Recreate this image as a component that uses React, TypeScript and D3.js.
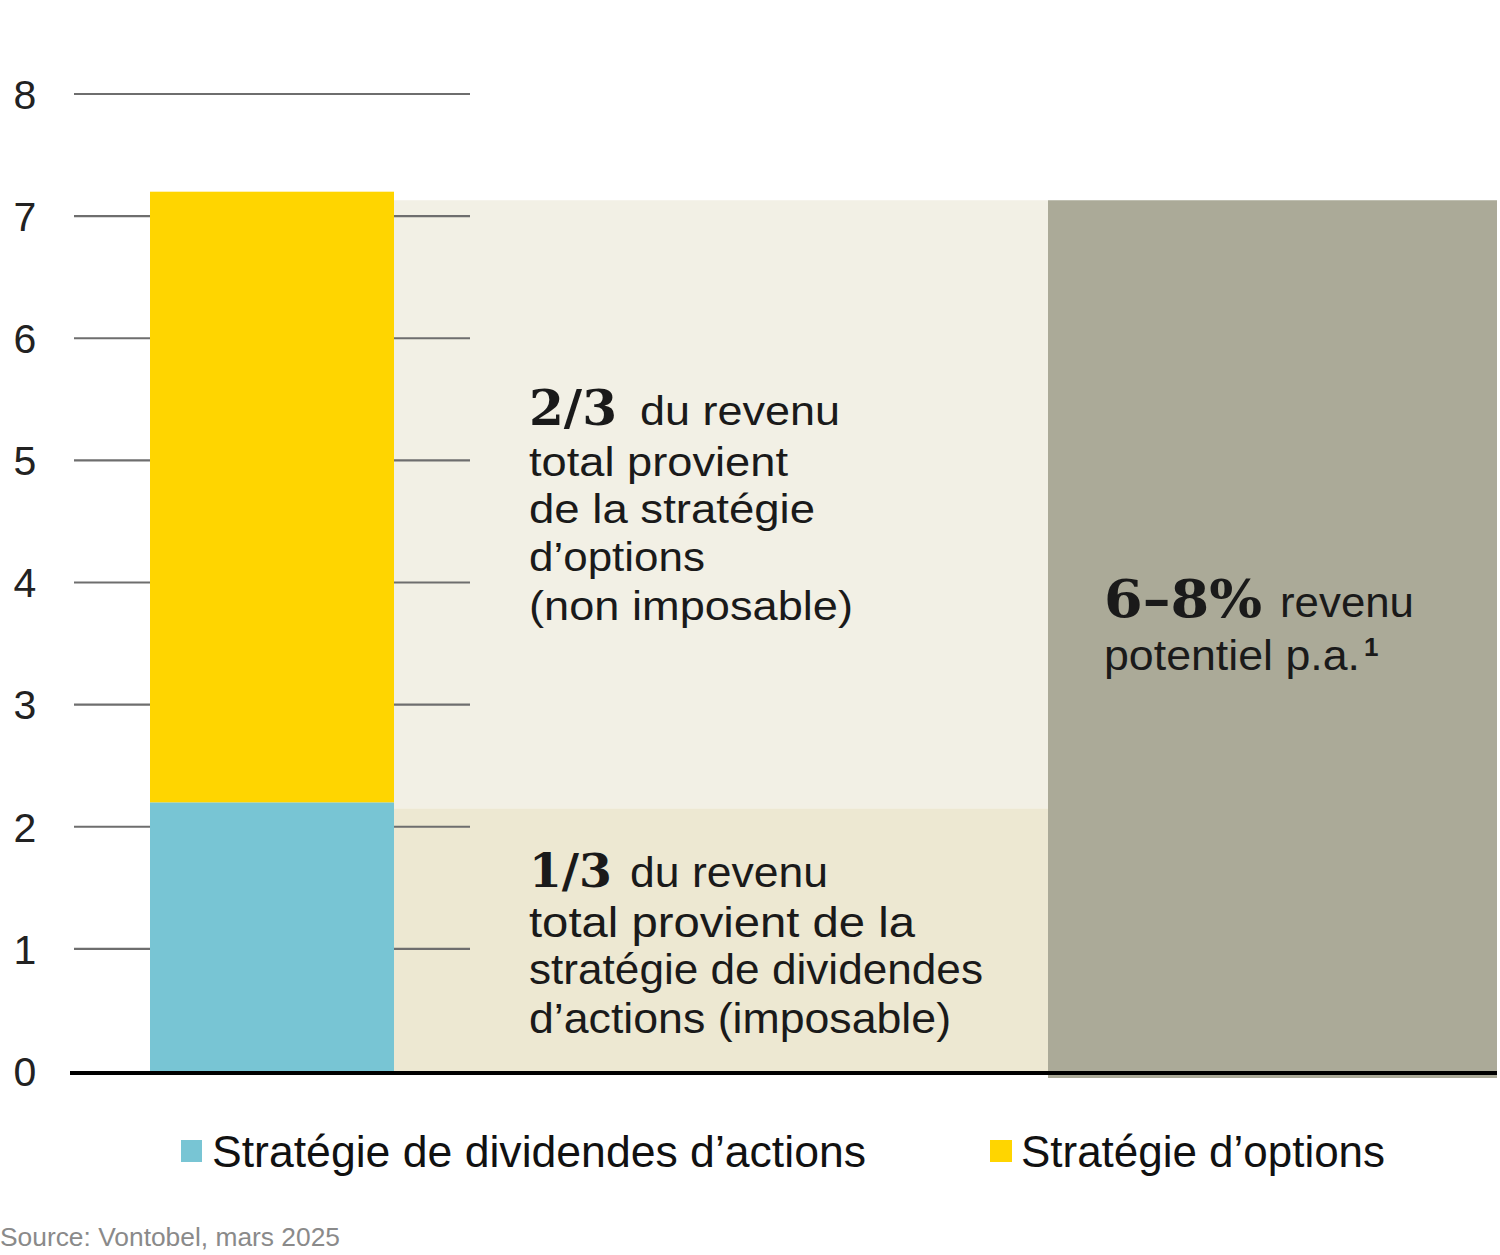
import { scaleLinear, stack } from "d3";

const Y_TICKS = [0, 1, 2, 3, 4, 5, 6, 7, 8];
const SERIES = ["dividendes", "options"];
const SERIES_LABELS = ["Stratégie de dividendes d’actions", "Stratégie d’options"];
const SERIES_COLORS = ["#78C5D4", "#FFD500"];
const BAR_VALUES = [{ dividendes: 2.2, options: 5.0 }];
// background panels: [from, to] on the value axis
const PANEL_LOW = [0, 2.15];
const PANEL_HIGH = [2.15, 7.13];
const PANEL_TOTAL = [0, 7.13];

const W = 1500, H = 1255;
const SANS = "'Liberation Sans', Arial, sans-serif";
const SERIF = "'DejaVu Serif', 'Liberation Serif', serif";

export default function App() {
  const y = scaleLinear().domain([0, 8]).range([1071, 94]);
  const layers = stack<any>().keys(SERIES)(BAR_VALUES);
  const barX = 150, barW = 244;
  const midX = 394, midW = 654;
  const grayX = 1048, grayW = 449;
  const fit = { lengthAdjust: "spacingAndGlyphs" } as any;

  return (
    <svg width={W} height={H} style={{ position: "absolute", left: 0, top: 0, background: "#fff" }}>
      {/* panels */}
      <rect x={midX} y={y(PANEL_HIGH[1])} width={midW} height={y(PANEL_HIGH[0]) - y(PANEL_HIGH[1])} fill="#F2F0E5" />
      <rect x={midX} y={y(PANEL_LOW[1])} width={midW} height={y(PANEL_LOW[0]) - y(PANEL_LOW[1])} fill="#EDE8D2" />
      <rect x={grayX} y={y(PANEL_TOTAL[1])} width={grayW} height={y(PANEL_TOTAL[0]) - y(PANEL_TOTAL[1]) + 7} fill="#ABAA98" />

      {/* grid + ticks */}
      {Y_TICKS.map(t => (
        <g key={t}>
          {t > 0 && <line x1={74} x2={470} y1={y(t)} y2={y(t)} stroke="#6e6e6e" strokeWidth={2.2} />}
          <text x={25} y={y(t)} dy="0.36em" textAnchor="middle" fontFamily={SANS} fontSize={41} fill="#222">{t}</text>
        </g>
      ))}

      {/* stacked bar */}
      {layers.map((layer, i) => (
        <rect key={layer.key} x={barX} width={barW}
          y={y(layer[0][1])} height={y(layer[0][0]) - y(layer[0][1])} fill={SERIES_COLORS[i]} />
      ))}

      {/* axis */}
      <line x1={70} x2={1497} y1={y(0) + 2} y2={y(0) + 2} stroke="#000" strokeWidth={4} />

      {/* upper annotation */}
      <g fontFamily={SANS} fontSize={41} fill="#1a1a1a">
        <text x={529} y={425} fontFamily={SERIF} fontWeight="bold" fontSize={48} textLength={88} {...fit}>2/3</text>
        <text x={640} y={425} textLength={200} {...fit}>du  revenu</text>
        <text x={529} y={476} textLength={259} {...fit}>total  provient</text>
        <text x={529} y={523} textLength={286} {...fit}>de  la  stratégie</text>
        <text x={529} y={571} textLength={176} {...fit}>d’options</text>
        <text x={529} y={620} textLength={324} {...fit}>(non  imposable)</text>
      </g>

      {/* lower annotation */}
      <g fontFamily={SANS} fontSize={43} fill="#1a1a1a">
        <text x={529} y={887} fontFamily={SERIF} fontWeight="bold" fontSize={47} textLength={83} {...fit}>1/3</text>
        <text x={630} y={887} textLength={198} {...fit}>du revenu</text>
        <text x={529} y={937} textLength={386} {...fit}>total  provient  de  la</text>
        <text x={529} y={984} textLength={454} {...fit}>stratégie de dividendes</text>
        <text x={529} y={1033} textLength={422} {...fit}>d’actions (imposable)</text>
      </g>

      {/* gray annotation */}
      <g fontFamily={SANS} fontSize={42} fill="#1a1a1a">
        <text x={1104} y={617} fontFamily={SERIF} fontWeight="bold" fontSize={52} textLength={158} {...fit}>6–8%</text>
        <text x={1280} y={617} textLength={134} {...fit}>revenu</text>
        <text x={1104} y={670} textLength={256} {...fit}>potentiel  p.a.</text>
        <text x={1364} y={656} fontSize={26} fontWeight="bold">1</text>
      </g>

      {/* legend */}
      <rect x={181} y={1140} width={21} height={22} fill={SERIES_COLORS[0]} />
      <text x={212} y={1167} fontFamily={SANS} fontSize={44} fill="#111" textLength={654} {...fit}>{SERIES_LABELS[0]}</text>
      <rect x={990} y={1140} width={22} height={22} fill={SERIES_COLORS[1]} />
      <text x={1021} y={1167} fontFamily={SANS} fontSize={44} fill="#111" textLength={364} {...fit}>{SERIES_LABELS[1]}</text>

      {/* source */}
      <text x={0} y={1246} fontFamily={SANS} fontSize={26} fill="#8a8a8a" textLength={340} {...fit}>Source: Vontobel, mars 2025</text>
    </svg>
  );
}
